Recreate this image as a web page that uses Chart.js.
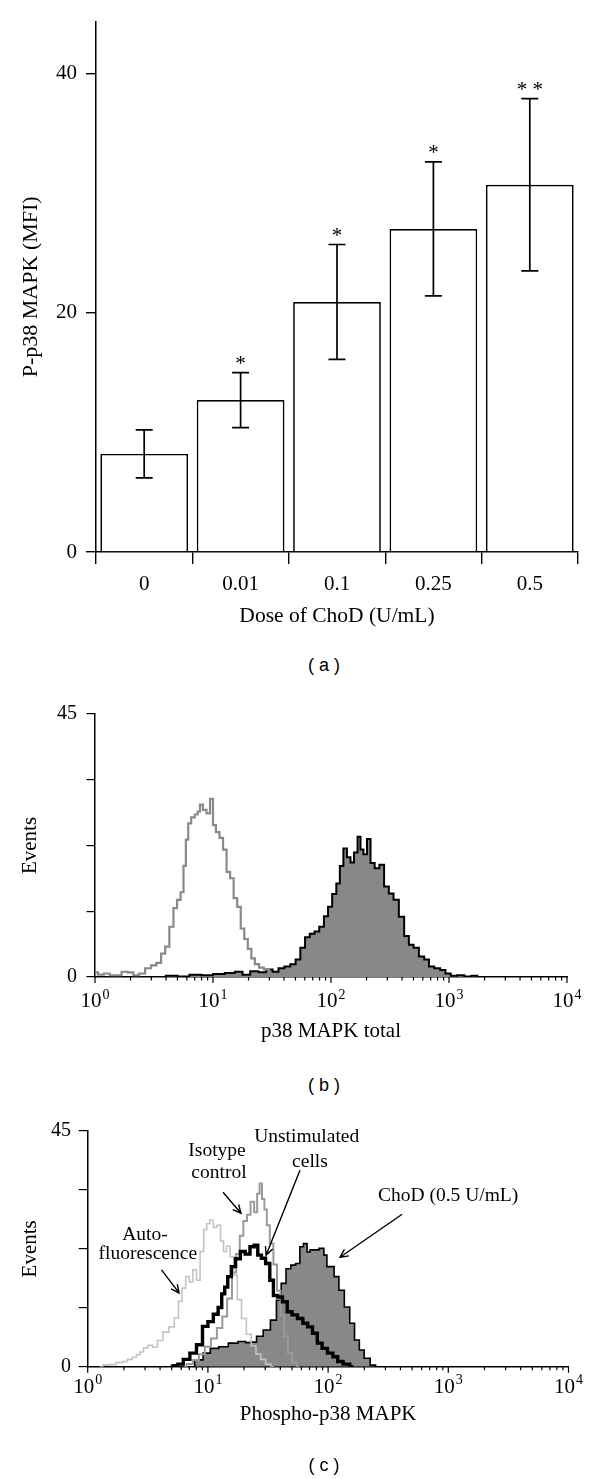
<!DOCTYPE html>
<html>
<head>
<meta charset="utf-8">
<script src="https://cdn.jsdelivr.net/npm/chart.js@4.4.0/dist/chart.umd.min.js"></script>
<style>
  html, body { margin: 0; padding: 0; background: #fff; }
  #page { position: relative; width: 600px; height: 1479px; overflow: hidden; background: #fff; }
  canvas { position: absolute; left: 0; }
  .cap { position: absolute; font: 18px "Liberation Sans", Arial, sans-serif; color: #000; transform: translate(-50%, -50%); white-space: pre; }
</style>
</head>
<body>
<div id="page">
  <canvas id="chartA" width="600" height="640" style="top:0"></canvas>
  <div class="cap" style="left:324px; top:665px">( a )</div>
  <canvas id="chartB" width="600" height="370" style="top:690px"></canvas>
  <div class="cap" style="left:324px; top:1085px">( b )</div>
  <canvas id="chartC" width="600" height="389" style="top:1090px"></canvas>
  <div class="cap" style="left:324px; top:1465px">( c )</div>
</div>
<script>
// (a) bar chart
const doses = ['0', '0.01', '0.1', '0.25', '0.5'];
const mfiMean = [8.2, 12.7, 20.9, 27.0, 30.7];
const mfiSd = [2.0, 2.3, 4.8, 5.6, 7.2];
const mfiSig = ['', '*', '*', '*', '**'];
const mfiTicks = [0, 20, 40];

// (b)/(c) axes
const eventTicks = [0, 11.25, 22.5, 33.75, 45];
const eventLabels = [0, 45];
const decades = [1, 10, 100, 1000, 10000];
const decadeExp = ['0', '1', '2', '3', '4'];
const minorSteps = [2, 3, 4, 5, 6, 7, 8, 9];

// (b) histograms, x given as log10 of intensity
const totalGrayExp = [0.00, 0.05, 0.10, 0.15, 0.20, 0.25, 0.30, 0.35, 0.40, 0.45, 0.50, 0.54, 0.58, 0.61, 0.65, 0.68, 0.71, 0.74, 0.76, 0.78, 0.80, 0.83, 0.86, 0.88, 0.90, 0.93, 0.96, 0.99, 1.01, 1.04, 1.07, 1.10, 1.13, 1.16, 1.19, 1.22, 1.25, 1.28, 1.31, 1.34, 1.37, 1.41, 1.45, 1.50, 1.55];
const totalGrayEv = [0.8, 0.4, 0.6, 0.3, 0.3, 0.9, 0.8, 0.3, 0.6, 1.5, 2.0, 2.4, 4.0, 5.2, 8.6, 11.8, 13.2, 14.5, 19.0, 23.5, 26.3, 27.3, 27.8, 28.3, 29.5, 28.6, 28.0, 30.5, 26.0, 24.8, 23.8, 21.8, 18.0, 16.9, 13.5, 12.0, 8.3, 6.5, 4.8, 3.2, 2.2, 1.6, 1.3, 0.5, 0];
const totalFillExp = [0.55, 0.65, 0.75, 0.85, 0.95, 1.05, 1.15, 1.22, 1.28, 1.35, 1.42, 1.48, 1.53, 1.58, 1.63, 1.68, 1.72, 1.76, 1.80, 1.84, 1.88, 1.92, 1.96, 1.99, 2.03, 2.06, 2.09, 2.12, 2.15, 2.18, 2.21, 2.24, 2.26, 2.29, 2.32, 2.35, 2.39, 2.43, 2.47, 2.51, 2.55, 2.60, 2.64, 2.68, 2.72, 2.77, 2.81, 2.85, 2.90, 2.95, 2.99, 3.04, 3.10, 3.16, 3.22, 3.26];
const totalFillEv = [0, 0.2, 0.1, 0.4, 0.3, 0.5, 0.7, 0.9, 0.4, 1.0, 0.8, 1.3, 0.9, 1.5, 1.8, 2.2, 3.0, 5.0, 6.8, 7.4, 7.8, 8.6, 10.4, 12.0, 14.2, 16.0, 19.0, 22.0, 20.5, 19.6, 21.3, 24.0, 21.8, 21.0, 23.6, 19.5, 18.6, 19.2, 15.5, 14.3, 13.2, 10.3, 7.0, 5.5, 5.0, 3.5, 3.0, 1.8, 1.5, 1.2, 0.6, 0.2, 0.3, 0.1, 0.2, 0];

// (c) histograms
const autoExp = [0.10, 0.15, 0.20, 0.27, 0.31, 0.35, 0.39, 0.42, 0.45, 0.48, 0.52, 0.56, 0.60, 0.65, 0.70, 0.74, 0.77, 0.80, 0.83, 0.86, 0.89, 0.92, 0.95, 0.98, 1.00, 1.03, 1.06, 1.09, 1.12, 1.14, 1.17, 1.20, 1.23, 1.26, 1.30, 1.34, 1.38, 1.42, 1.46, 1.50, 1.55];
const autoEv = [0, 0.3, 0.4, 0.8, 1.0, 1.4, 1.8, 2.3, 2.8, 3.6, 4.1, 3.7, 5.0, 6.6, 7.6, 9.3, 12.5, 15.0, 17.2, 16.2, 18.5, 16.5, 22.0, 26.2, 27.3, 28.0, 26.6, 27.0, 24.0, 22.0, 23.0, 21.0, 17.5, 12.8, 9.2, 6.2, 4.0, 2.4, 1.4, 0.5, 0];
const isoExp = [0.80, 0.85, 0.90, 0.95, 1.00, 1.05, 1.10, 1.14, 1.18, 1.22, 1.25, 1.28, 1.31, 1.34, 1.37, 1.40, 1.42, 1.44, 1.46, 1.48, 1.50, 1.53, 1.56, 1.59, 1.62, 1.65, 1.68, 1.72, 1.76];
const isoEv = [0, 0.5, 1.3, 2.4, 3.8, 5.4, 7.4, 9.6, 13.0, 18.0, 21.5, 25.0, 27.8, 29.0, 31.5, 29.5, 33.0, 35.0, 32.0, 30.0, 27.0, 23.5, 19.5, 14.5, 9.8, 5.8, 2.6, 0.8, 0];
const unstimExp = [0.69, 0.73, 0.77, 0.82, 0.88, 0.93, 0.98, 1.02, 1.07, 1.10, 1.13, 1.15, 1.18, 1.21, 1.25, 1.29, 1.33, 1.37, 1.40, 1.43, 1.46, 1.50, 1.53, 1.56, 1.60, 1.64, 1.68, 1.72, 1.77, 1.81, 1.85, 1.89, 1.93, 1.97, 2.02, 2.06, 2.10, 2.15, 2.21];
const unstimEv = [0, 0.2, 0.5, 1.4, 2.6, 4.2, 7.7, 8.6, 10.0, 11.3, 13.9, 15.2, 17.2, 19.1, 20.6, 22.0, 21.5, 22.9, 23.2, 21.3, 20.7, 19.7, 16.5, 13.6, 13.3, 12.4, 10.5, 9.9, 9.2, 8.3, 7.6, 6.4, 4.5, 3.5, 2.6, 1.9, 1.0, 0.5, 0];
const chodExp = [0.85, 0.93, 0.99, 1.05, 1.13, 1.21, 1.29, 1.34, 1.38, 1.43, 1.49, 1.55, 1.59, 1.63, 1.67, 1.71, 1.75, 1.78, 1.81, 1.84, 1.86, 1.90, 1.95, 1.98, 2.00, 2.03, 2.07, 2.11, 2.16, 2.20, 2.24, 2.28, 2.32, 2.38, 2.41];
const chodEv = [0, 1.3, 2.6, 3.5, 3.8, 4.5, 4.8, 4.6, 4.7, 5.8, 7.0, 8.9, 12.7, 15.9, 18.7, 19.4, 19.7, 22.9, 23.5, 21.9, 22.3, 22.3, 22.6, 21.3, 19.1, 19.1, 17.2, 14.6, 11.4, 8.3, 5.1, 3.2, 1.6, 0.3, 0];

const SERIF = '"Liberation Serif", "Times New Roman", serif';
Chart.defaults.font.family = SERIF;
Chart.defaults.color = '#000';

const pts = (ex, ev) => ex.map((e, i) => ({ x: Math.pow(10, e), y: ev[i] }));

const errorBars = {
  id: 'errorBars',
  afterDatasetsDraw(chart) {
    const { ctx, scales: { y } } = chart;
    const bars = chart.getDatasetMeta(0).data;
    ctx.save();
    ctx.strokeStyle = '#000';
    ctx.lineWidth = 1.7;
    ctx.fillStyle = '#000';
    ctx.font = '21px ' + SERIF;
    ctx.textAlign = 'center';
    ctx.textBaseline = 'alphabetic';
    bars.forEach((bar, i) => {
      const hi = y.getPixelForValue(mfiMean[i] + mfiSd[i]);
      const lo = y.getPixelForValue(mfiMean[i] - mfiSd[i]);
      ctx.beginPath();
      ctx.moveTo(bar.x, hi); ctx.lineTo(bar.x, lo);
      ctx.moveTo(bar.x - 8.5, hi); ctx.lineTo(bar.x + 8.5, hi);
      ctx.moveTo(bar.x - 8.5, lo); ctx.lineTo(bar.x + 8.5, lo);
      ctx.stroke();
      if (mfiSig[i]) ctx.fillText(mfiSig[i].split('').join(' '), bar.x, hi - 3);
    });
    ctx.restore();
  }
};

function logAxis(labelGap) {
  return {
    id: 'logAxis',
    afterDraw(chart) {
      const { ctx, chartArea, scales: { x } } = chart;
      const y0 = chartArea.bottom;
      ctx.save();
      ctx.strokeStyle = '#000';
      ctx.fillStyle = '#000';
      ctx.lineWidth = 1.2;
      decades.forEach((d, k) => {
        const px = x.getPixelForValue(d);
        ctx.beginPath();
        ctx.moveTo(px, y0); ctx.lineTo(px, y0 + 6);
        if (k < decades.length - 1) {
          minorSteps.forEach(m => {
            const mx = x.getPixelForValue(d * m);
            ctx.moveTo(mx, y0); ctx.lineTo(mx, y0 + 3.5);
          });
        }
        ctx.stroke();
        ctx.textAlign = 'left';
        ctx.textBaseline = 'alphabetic';
        ctx.font = '21px ' + SERIF;
        const w1 = ctx.measureText('10').width;
        ctx.font = '14px ' + SERIF;
        const w2 = ctx.measureText(decadeExp[k]).width;
        const left = px - (w1 + w2 + 1) / 2;
        ctx.font = '21px ' + SERIF;
        ctx.fillText('10', left, y0 + labelGap);
        ctx.font = '14px ' + SERIF;
        ctx.fillText(decadeExp[k], left + w1 + 1, y0 + labelGap - 8.5);
      });
      ctx.restore();
    }
  };
}

// labels and arrows of (c), placed in data units (log10 intensity, events)
const notesC = [
  { text: 'Isotype', at: [1.076, 41.3] },
  { text: 'control', at: [1.092, 37.0] },
  { text: 'Unstimulated', at: [1.822, 43.9] },
  { text: 'cells', at: [1.849, 39.1] },
  { text: 'ChoD (0.5 U/mL)', at: [2.998, 32.6] },
  { text: 'Auto-', at: [0.477, 25.1] },
  { text: 'fluorescence', at: [0.500, 21.6] }
];
const arrowsC = [
  { from: [1.126, 33.3], to: [1.275, 29.3] },
  { from: [1.766, 37.5], to: [1.484, 21.3] },
  { from: [2.616, 29.1], to: [2.099, 20.9] },
  { from: [0.614, 18.5], to: [0.760, 14.1] }
];

const notesPlugin = {
  id: 'notes',
  afterDraw(chart) {
    const { ctx, scales: { x, y } } = chart;
    const px = p => [x.getPixelForValue(Math.pow(10, p[0])), y.getPixelForValue(p[1])];
    ctx.save();
    ctx.fillStyle = '#000';
    ctx.strokeStyle = '#000';
    ctx.lineWidth = 1.4;
    ctx.font = '19.5px ' + SERIF;
    ctx.textAlign = 'center';
    ctx.textBaseline = 'middle';
    notesC.forEach(n => {
      const [tx, ty] = px(n.at);
      ctx.fillText(n.text, tx, ty);
    });
    arrowsC.forEach(a => {
      const [x1, y1] = px(a.from);
      const [x2, y2] = px(a.to);
      const ang = Math.atan2(y2 - y1, x2 - x1);
      ctx.beginPath();
      ctx.moveTo(x1, y1); ctx.lineTo(x2, y2);
      ctx.moveTo(x2 - 9 * Math.cos(ang - 0.45), y2 - 9 * Math.sin(ang - 0.45));
      ctx.lineTo(x2, y2);
      ctx.lineTo(x2 - 9 * Math.cos(ang + 0.45), y2 - 9 * Math.sin(ang + 0.45));
      ctx.stroke();
    });
    ctx.restore();
  }
};

new Chart(document.getElementById('chartA'), {
  type: 'bar',
  data: {
    labels: doses,
    datasets: [{
      data: mfiMean,
      backgroundColor: '#fff',
      borderColor: '#000',
      borderWidth: 1.7,
      categoryPercentage: 1,
      barPercentage: 0.91
    }]
  },
  options: {
    responsive: false,
    animation: false,
    devicePixelRatio: 1,
    layout: { padding: { top: 20, right: 22, left: 0, bottom: 0 } },
    plugins: { legend: { display: false }, tooltip: { enabled: false } },
    scales: {
      x: {
        grid: { offset: true, drawOnChartArea: false, tickLength: 12, color: '#000', lineWidth: 1.4 },
        border: { color: '#000', width: 1.5 },
        ticks: { font: { size: 21 }, color: '#000', padding: 8 },
        title: { display: true, text: 'Dose of ChoD (U/mL)', font: { size: 21.5 }, color: '#000', padding: { top: 0, bottom: 11 } },
        afterFit: s => { s.height = 88; }
      },
      y: {
        min: 0,
        max: 44.33,
        afterBuildTicks: s => { s.ticks = mfiTicks.map(v => ({ value: v })); },
        grid: { drawOnChartArea: false, tickLength: 10, color: '#000', lineWidth: 1.4 },
        border: { color: '#000', width: 1.5 },
        ticks: { font: { size: 21 }, color: '#000', padding: 9 },
        title: { display: true, text: 'P-p38 MAPK (MFI)', font: { size: 22 }, color: '#000', padding: { top: 18, bottom: 0 } },
        afterFit: s => { s.width = 96; }
      }
    }
  },
  plugins: [errorBars]
});

function eventsAxis(width, tickLen, pad) {
  return {
    min: 0,
    max: 45,
    afterBuildTicks: s => { s.ticks = eventTicks.map(v => ({ value: v })); },
    grid: { drawOnChartArea: false, tickLength: tickLen, color: '#000', lineWidth: 1.2 },
    border: { color: '#000', width: 1.5 },
    ticks: { font: { size: 20 }, color: '#000', padding: pad, callback: v => eventLabels.includes(v) ? String(v) : '' },
    title: { display: true, text: 'Events', font: { size: 21 }, color: '#000', padding: { top: 18, bottom: 0 } },
    afterFit: s => { s.width = width; }
  };
}

function intensityAxis(text, height, titleGap) {
  return {
    type: 'logarithmic',
    min: 1,
    max: 10000,
    ticks: { display: false },
    grid: { display: false },
    border: { display: true, color: '#000', width: 1.5 },
    title: { display: true, text: text, font: { size: 21 }, color: '#000', padding: { top: 0, bottom: titleGap } },
    afterFit: s => { s.height = height; }
  };
}

const histLine = { pointRadius: 0, stepped: 'middle', fill: false, tension: 0 };

new Chart(document.getElementById('chartB'), {
  type: 'line',
  data: {
    datasets: [
      Object.assign({ data: pts(totalGrayExp, totalGrayEv), borderColor: '#8a8a8a', borderWidth: 2.2 }, histLine),
      Object.assign({}, histLine, { data: pts(totalFillExp, totalFillEv), borderColor: '#000', borderWidth: 2, fill: 'origin', backgroundColor: '#888888' })
    ]
  },
  options: {
    responsive: false,
    animation: false,
    devicePixelRatio: 1,
    layout: { padding: { top: 24, right: 33, left: 0, bottom: 0 } },
    plugins: { legend: { display: false }, tooltip: { enabled: false } },
    scales: {
      x: intensityAxis('p38 MAPK total', 83, 16),
      y: eventsAxis(95, 8.5, 9.5)
    }
  },
  plugins: [logAxis(30)]
});

new Chart(document.getElementById('chartC'), {
  type: 'line',
  data: {
    datasets: [
      Object.assign({ data: pts(unstimExp, unstimEv), borderColor: '#000', borderWidth: 3.4 }, histLine),
      Object.assign({ data: pts(isoExp, isoEv), borderColor: '#9a9a9a', borderWidth: 2 }, histLine),
      Object.assign({ data: pts(autoExp, autoEv), borderColor: '#c4c4c4', borderWidth: 1.6 }, histLine),
      Object.assign({}, histLine, { data: pts(chodExp, chodEv), borderColor: '#000', borderWidth: 1.6, fill: 'origin', backgroundColor: '#888888' })
    ]
  },
  options: {
    responsive: false,
    animation: false,
    devicePixelRatio: 1,
    layout: { padding: { top: 41, right: 31.5, left: 0, bottom: 0 } },
    plugins: { legend: { display: false }, tooltip: { enabled: false } },
    scales: {
      x: intensityAxis('Phospho-p38 MAPK', 112.3, 52),
      y: eventsAxis(87.7, 9, 7.7)
    }
  },
  plugins: [logAxis(26), notesPlugin]
});
</script>
</body>
</html>
